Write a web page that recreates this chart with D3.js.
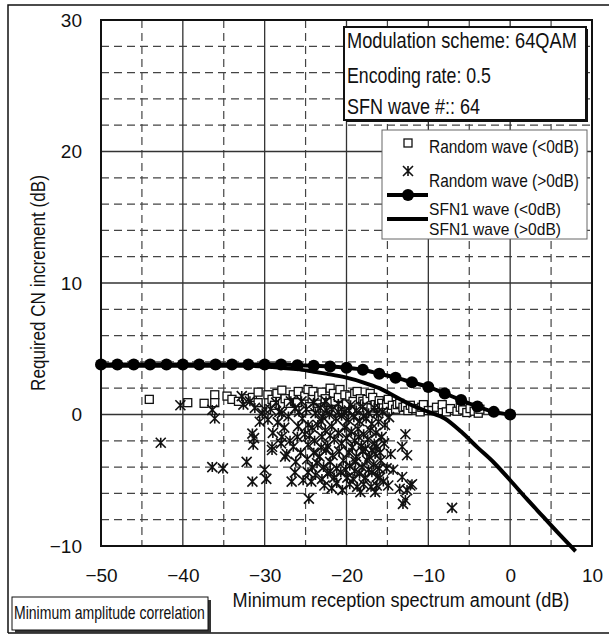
<!DOCTYPE html>
<html>
<head>
<meta charset="utf-8">
<script src="https://cdn.jsdelivr.net/npm/d3@7"></script>
<style>
  body { margin: 0; background: #fff; }
  svg { display: block; }
  .narrow { font-family: "Liberation Sans Narrow", "Arial Narrow", "Liberation Sans", Arial, sans-serif; }
  .tick-label { font-family: "Liberation Sans", Arial, sans-serif; font-size: 19px; fill: #111; }
</style>
</head>
<body>
<svg id="chart" width="609" height="637"></svg>
<script>
// Axis ticks
const xTicks = [-50, -40, -30, -20, -10, 0, 10];
const yTicks = [-10, 0, 10, 20, 30];
const xMajorGrid = [-40, -30, -20, -10, 0];
const xMinorGrid = [-45, -35, -25, -15, -5, 5];
const yMajorGrid = [0, 10, 20];
const yMinorGrid = [-8, -6, -4, -2, 2, 4, 6, 8, 12, 14, 16, 18, 22, 24, 26, 28];

// SFN1 wave (<0dB): line with round markers
const sfnLowX = [-50, -48, -46, -44, -42, -40, -38, -36, -34, -32, -30, -28, -26, -24, -22, -20, -18, -16, -14, -12, -10, -8, -6, -4, -2, 0];
const sfnLowY = [3.8, 3.8, 3.8, 3.8, 3.8, 3.8, 3.8, 3.8, 3.8, 3.8, 3.8, 3.8, 3.75, 3.7, 3.65, 3.55, 3.4, 3.1, 2.8, 2.45, 2.1, 1.6, 1.1, 0.6, 0.2, 0];

// SFN1 wave (>0dB): plain line
const sfnHighX = [-50, -48, -46, -44, -42, -40, -38, -36, -34, -32, -30, -28, -26, -24, -22, -20, -18, -16, -14, -12, -10, -8, -6, -4, -2, 0, 2, 4, 6, 8];
const sfnHighY = [3.7, 3.7, 3.7, 3.7, 3.7, 3.7, 3.7, 3.7, 3.7, 3.7, 3.65, 3.55, 3.45, 3.25, 3.05, 2.8, 2.45, 2.0, 1.35, 0.7, 0.2, -0.3, -1.3, -2.5, -3.65, -5.0, -6.4, -7.75, -9.1, -10.4];

// Random wave (<0dB): square markers [x, y]
const randomLow = [
  [-44.1, 1.15], [-39.4, 0.9], [-37.4, 0.85], [-36.1, 1.5], [-36.1, 0.9], [-34.6, 1.4], [-34.0, 1.15],
  [-33.2, 1.0], [-32.2, 1.2], [-31.5, 1.3], [-30.8, 1.7], [-30.8, 0.9], [-29.6, 1.5], [-29.1, 1.15],
  [-28.8, 0.7], [-28.5, 1.6], [-27.9, 1.85], [-27.5, 1.2], [-27.1, 0.85], [-26.5, 1.5], [-26.0, 0.9],
  [-25.9, 1.75], [-25.1, 1.4], [-24.7, 1.9], [-24.5, 0.6], [-24.2, 1.2], [-24.1, 1.75], [-23.6, 0.85],
  [-23.4, 1.4], [-23.0, 1.7], [-23.0, 0.5], [-22.6, 1.2], [-22.2, 0.9], [-22.0, 2.0], [-21.6, 1.6],
  [-21.4, 1.0], [-21.0, 1.3], [-20.8, 1.9], [-20.5, 0.6], [-20.2, 1.5], [-20.0, 0.8], [-19.6, 1.4],
  [-19.2, 1.0], [-19.0, 1.6], [-18.7, 1.75], [-18.5, 0.5], [-18.3, 1.2], [-18.0, 1.0], [-17.8, 0.8],
  [-17.5, 1.15], [-17.1, 1.6], [-17.0, 0.5], [-16.8, 1.3], [-16.5, 0.75], [-16.1, 0.75], [-16.0, 1.05],
  [-15.7, 0.85], [-15.5, 0.5], [-15.1, 0.75], [-14.9, 1.15], [-14.4, 0.7], [-14.0, 0.4], [-13.8, 0.75],
  [-13.5, 0.85], [-13.1, 0.55], [-12.8, 0.6], [-12.5, 0.3], [-12.2, 0.7], [-11.9, 0.45], [-11.5, 0.45],
  [-11.0, 0.2], [-10.8, 0.55], [-10.6, 0.75], [-10.0, 0.3], [-9.55, 0.3], [-9.0, 0.55], [-8.3, 0.3],
  [-8.3, 0.75], [-7.8, 0.2], [-7.3, 0.45], [-6.5, 0.25], [-6.1, 0.55], [-5.8, 0.35], [-5.3, 0.15],
  [-4.9, 0.45], [-4.4, 0.25], [-3.9, 0.1], [-3.7, 0.4]
];

// Random wave (>0dB): star markers [x, y]
const randomHigh = [
  [-42.7, -2.15], [-40.3, 0.7], [-36.4, 0.35], [-36.1, -0.3], [-36.4, -4.0], [-35.1, -4.1],
  [-32.8, 1.4], [-32.6, 0.75], [-32.2, -3.6], [-31.8, 1.0], [-31.5, -1.45], [-31.3, -1.8],
  [-31.4, -2.3], [-31.5, -5.1], [-31.2, 0.5], [-30.6, -0.55], [-30.3, 0.1], [-30.0, 0.4],
  [-30.0, -4.2], [-29.8, -4.9], [-29.6, -0.4], [-29.3, 0.4], [-29.0, -1.4], [-29.1, -2.45],
  [-29.1, -2.7], [-28.6, 0.9], [-28.4, -0.6], [-28.2, 0.2], [-28.0, -2.2], [-27.9, 0.1],
  [-27.9, -1.7], [-27.6, -1.0], [-27.5, -3.2], [-27.3, -3.0], [-27.1, -0.15], [-26.9, -2.0],
  [-26.8, 1.0], [-26.7, -5.1], [-26.5, -2.45], [-26.3, -4.4], [-26.3, 0.45], [-26.2, -3.6],
  [-26.0, -1.7], [-25.9, -0.9], [-25.8, 0.2], [-25.6, -2.9], [-25.5, 1.0], [-25.4, -0.3],
  [-25.3, -5.0], [-25.1, -1.5], [-24.9, 0.4], [-24.8, -3.4], [-24.7, -2.3], [-24.7, -4.4],
  [-24.7, -0.8], [-24.6, -6.4], [-24.3, -5.1], [-24.2, -4.0],
  [-24.0, 0.9], [-23.8, 0.1], [-23.2, 0.5], [-23.1, -0.5], [-22.9, -0.2], [-22.5, 1.0],
  [-22.4, 0.3], [-22.1, 0.0], [-21.8, 0.4], [-21.3, -0.3], [-21.0, 0.8], [-21.0, 0.2],
  [-20.6, -0.1], [-20.3, 0.2], [-19.8, -0.4], [-19.7, 0.3], [-19.5, 0.7], [-19.1, -0.2],
  [-18.8, 0.3], [-18.4, -0.5], [-18.0, 0.6], [-17.9, -0.1], [-17.6, -0.3], [-17.3, 0.1],
  [-16.9, -0.7], [-16.6, 0.5], [-16.3, 0.1], [-16.1, -0.55], [-15.6, 0.2], [-15.3, -0.8],
  [-14.8, -0.2],
  [-24.2, -1.0], [-23.5, -0.8], [-22.6, -1.2], [-21.8, -0.9], [-21.0, -1.4], [-20.2, -1.0],
  [-19.4, -1.3], [-18.6, -1.1], [-17.9, -1.5], [-17.1, -1.2], [-16.4, -1.4], [-15.7, -1.7],
  [-24.5, -1.6], [-23.9, -2.0], [-23.0, -1.7], [-22.3, -2.4], [-22.0, -1.6], [-21.5, -1.9],
  [-20.6, -2.2], [-20.0, -1.8], [-19.3, -2.5], [-19.0, -2.0], [-18.5, -1.7], [-18.2, -2.4],
  [-17.4, -1.9], [-16.6, -2.2], [-16.3, -2.45], [-15.4, -2.2],
  [-24.0, -2.9], [-23.3, -3.2], [-23.1, -2.5], [-22.5, -2.7], [-21.7, -3.1], [-20.9, -2.8],
  [-19.7, -2.9], [-18.8, -3.2], [-18.0, -2.8], [-17.7, -2.6], [-17.2, -3.2], [-16.9, -2.7],
  [-16.5, -3.0], [-15.9, -2.9], [-14.6, -3.0],
  [-23.6, -3.7], [-22.8, -4.0], [-22.0, -3.6], [-21.2, -4.1], [-20.4, -3.5], [-19.6, -3.9],
  [-18.9, -3.6], [-18.1, -4.0], [-17.5, -3.5], [-16.7, -3.8], [-16.0, -4.1], [-15.8, -3.5],
  [-15.1, -4.1], [-14.3, -4.2],
  [-23.8, -4.6], [-23.0, -4.9], [-22.3, -4.5], [-22.0, -4.3], [-21.5, -4.8], [-20.7, -4.4],
  [-20.1, -4.2], [-19.9, -4.8], [-19.2, -4.9], [-19.0, -4.3], [-18.4, -4.5], [-17.7, -4.8],
  [-17.3, -4.2], [-16.9, -4.4], [-16.2, -4.7], [-15.9, -4.8], [-15.5, -5.1],
  [-22.7, -5.4], [-21.8, -5.6], [-21.2, -5.2], [-20.5, -5.75], [-19.6, -5.3], [-18.7, -5.5],
  [-18.3, -5.9], [-17.9, -5.3], [-17.0, -5.5], [-16.5, -5.9], [-16.3, -5.4], [-14.9, -5.4],
  [-12.8, -1.5], [-13.2, -2.45], [-12.6, -3.1], [-13.2, -4.75], [-12.0, -5.3], [-12.2, -5.4],
  [-13.5, -5.65], [-12.6, -5.75], [-12.8, -6.5], [-13.1, -6.8], [-7.1, -7.1]
];

// Text
const infoLines = ["Modulation scheme: 64QAM", "Encoding rate: 0.5", "SFN wave #:: 64"];
const legendLabels = ["Random wave (<0dB)", "Random wave (>0dB)", "SFN1 wave (<0dB)", "SFN1 wave (>0dB)"];
const xTitle = "Minimum reception spectrum amount (dB)";
const yTitle = "Required CN increment (dB)";
const cornerLabel = "Minimum amplitude correlation";

const svg = d3.select("#chart");
const plot = { left: 101, right: 592, top: 20, bottom: 546 };
const x = d3.scaleLinear().domain([-50, 10]).range([plot.left, plot.right]);
const y = d3.scaleLinear().domain([-10, 30]).range([plot.bottom, plot.top]);

// Condensed text: measure the rendered run, then squeeze it horizontally to the wanted width
function squeezeText(parent, str, px, py, size, width, anchor = "start", rotate = 0) {
  const t = parent.append("text").attr("class", "narrow")
    .attr("font-size", size).attr("text-anchor", anchor).attr("fill", "#111").text(str);
  const natural = t.node().getComputedTextLength();
  const sx = Math.min(1.2, width / natural);
  t.attr("transform", `translate(${px},${py})${rotate ? ` rotate(${rotate})` : ""} scale(${sx},1)`);
  return t;
}

// Outer frame (open on the right)
svg.append("path")
  .attr("d", "M8,633 V5 H609 M8,633 H609")
  .attr("fill", "none").attr("stroke", "#111").attr("stroke-width", 1.5);

// Grid
const grid = svg.append("g");
grid.selectAll("line.xmin").data(xMinorGrid).join("line")
  .attr("x1", d => x(d)).attr("x2", d => x(d)).attr("y1", plot.top).attr("y2", plot.bottom)
  .attr("stroke", "#444").attr("stroke-width", 1.2).attr("stroke-dasharray", "8,5");
grid.selectAll("line.ymin").data(yMinorGrid).join("line")
  .attr("y1", d => y(d)).attr("y2", d => y(d)).attr("x1", plot.left).attr("x2", plot.right)
  .attr("stroke", "#444").attr("stroke-width", 1.2).attr("stroke-dasharray", "8,5");
grid.selectAll("line.xmaj").data(xMajorGrid).join("line")
  .attr("x1", d => x(d)).attr("x2", d => x(d)).attr("y1", plot.top).attr("y2", plot.bottom)
  .attr("stroke", "#333").attr("stroke-width", 1.3);
grid.selectAll("line.ymaj").data(yMajorGrid).join("line")
  .attr("y1", d => y(d)).attr("y2", d => y(d)).attr("x1", plot.left).attr("x2", plot.right)
  .attr("stroke", "#333").attr("stroke-width", 1.3);

// Plot border
svg.append("rect")
  .attr("x", plot.left).attr("y", plot.top)
  .attr("width", plot.right - plot.left).attr("height", plot.bottom - plot.top)
  .attr("fill", "none").attr("stroke", "#111").attr("stroke-width", 2);

// Axes (labels only)
const fmt = d3.format("");
const xAxis = svg.append("g").attr("transform", `translate(0,${plot.bottom})`)
  .call(d3.axisBottom(x).tickValues(xTicks).tickSize(0).tickPadding(23).tickFormat(fmt));
const yAxis = svg.append("g").attr("transform", `translate(${plot.left},0)`)
  .call(d3.axisLeft(y).tickValues(yTicks).tickSize(0).tickPadding(19).tickFormat(fmt));
[xAxis, yAxis].forEach(a => {
  a.select(".domain").remove();
  a.selectAll("text").attr("class", "tick-label").attr("fill", "#111");
});

// Star marker path (asterisk: X plus vertical bar)
const starPath = (s) => `M${-s},${-s}L${s},${s}M${-s},${s}L${s},${-s}M0,${-s}L0,${s}`;

// Random wave (<0dB) squares
svg.append("g").selectAll("rect").data(randomLow).join("rect")
  .attr("x", d => x(d[0]) - 4).attr("y", d => y(d[1]) - 4)
  .attr("width", 8).attr("height", 8)
  .attr("fill", "#fff").attr("stroke", "#111").attr("stroke-width", 1.3);

// Random wave (>0dB) stars
svg.append("g").selectAll("path").data(randomHigh).join("path")
  .attr("transform", d => `translate(${x(d[0])},${y(d[1])})`)
  .attr("d", starPath(5))
  .attr("fill", "none").attr("stroke", "#111").attr("stroke-width", 1.6);

// SFN1 wave (>0dB)
const lineGen = d3.line().x(d => x(d[0])).y(d => y(d[1])).curve(d3.curveMonotoneX);
svg.append("path")
  .datum(sfnHighX.map((v, i) => [v, sfnHighY[i]]))
  .attr("d", lineGen)
  .attr("fill", "none").attr("stroke", "#000").attr("stroke-width", 4);

// SFN1 wave (<0dB)
const lowPts = sfnLowX.map((v, i) => [v, sfnLowY[i]]);
svg.append("path").datum(lowPts).attr("d", lineGen)
  .attr("fill", "none").attr("stroke", "#000").attr("stroke-width", 4);
svg.append("g").selectAll("circle").data(lowPts).join("circle")
  .attr("cx", d => x(d[0])).attr("cy", d => y(d[1])).attr("r", 6).attr("fill", "#000");

// Info box
svg.append("rect").attr("x", 346).attr("y", 29).attr("width", 242).attr("height", 93).attr("fill", "#111");
svg.append("rect").attr("x", 344).attr("y", 27).attr("width", 242).attr("height", 93)
  .attr("fill", "#fff").attr("stroke", "#111").attr("stroke-width", 2);
const infoBase = [48, 83, 114];
const infoWidth = [230, 144, 133];
const infoG = svg.append("g");
infoLines.forEach((s, i) => squeezeText(infoG, s, 347, infoBase[i], 22, infoWidth[i]));

// Legend
const lg = svg.append("g");
lg.append("rect").attr("x", 382).attr("y", 130).attr("width", 205).attr("height", 109)
  .attr("fill", "#fff").attr("stroke", "#666").attr("stroke-width", 1);
const legBase = [153, 187, 215, 235];
const legSize = [18, 18, 17, 17];
const legWidth = [150, 150, 132, 132];
legendLabels.forEach((s, i) => squeezeText(lg, s, 429, legBase[i], legSize[i], legWidth[i]));
lg.append("rect").attr("x", 404).attr("y", 139).attr("width", 8).attr("height", 8)
  .attr("fill", "#fff").attr("stroke", "#111").attr("stroke-width", 1.3);
lg.append("path").attr("transform", "translate(408,171)").attr("d", starPath(5))
  .attr("fill", "none").attr("stroke", "#111").attr("stroke-width", 1.6);
lg.append("line").attr("x1", 387).attr("x2", 428).attr("y1", 195).attr("y2", 195)
  .attr("stroke", "#000").attr("stroke-width", 4);
lg.append("circle").attr("cx", 408).attr("cy", 195).attr("r", 6).attr("fill", "#000");
lg.append("line").attr("x1", 387).attr("x2", 428).attr("y1", 219).attr("y2", 219)
  .attr("stroke", "#000").attr("stroke-width", 4);

// Axis titles
squeezeText(svg, xTitle, 401, 607, 20, 337, "middle");
squeezeText(svg, yTitle, 45, 283, 20, 216, "middle", -90);

// Corner label box
svg.append("rect").attr("x", 15).attr("y", 600).attr("width", 196).attr("height", 33).attr("fill", "#333");
svg.append("rect").attr("x", 12).attr("y", 597).attr("width", 196).attr("height", 33)
  .attr("fill", "#fff").attr("stroke", "#111").attr("stroke-width", 1);
squeezeText(svg, cornerLabel, 14, 619, 18, 191);
</script>
</body>
</html>
